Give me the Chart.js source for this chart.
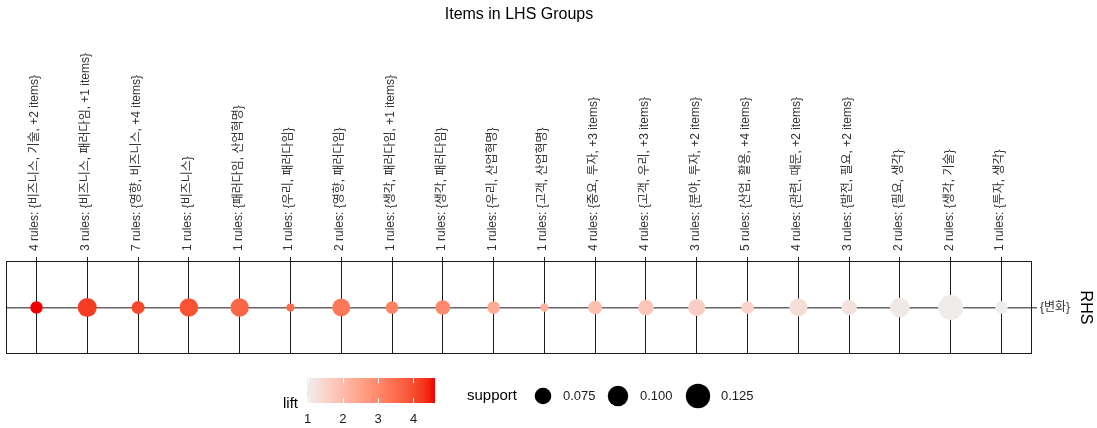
<!DOCTYPE html>
<html>
<head>
<meta charset="utf-8">
<script src="https://cdn.jsdelivr.net/npm/chart.js@4.4.1/dist/chart.umd.min.js"></script>
<style>
  html, body { margin: 0; padding: 0; background: #ffffff; }
  #wrap { width: 1097px; height: 428px; position: relative; }
</style>
</head>
<body>
<div id="wrap"><canvas id="c"></canvas></div>
<script>
// LHS item groups (columns), ordered by lift
const groupLabels = [
  '4 rules: {비즈니스, 기술, +2 items}',
  '3 rules: {비즈니스, 패러다임, +1 items}',
  '7 rules: {영향, 비즈니스, +4 items}',
  '1 rules: {비즈니스}',
  '1 rules: {패러다임, 산업혁명}',
  '1 rules: {우리, 패러다임}',
  '2 rules: {영향, 패러다임}',
  '1 rules: {생각, 패러다임, +1 items}',
  '1 rules: {생각, 패러다임}',
  '1 rules: {우리, 산업혁명}',
  '1 rules: {고객, 산업혁명}',
  '4 rules: {중요, 투자, +3 items}',
  '4 rules: {고객, 우리, +3 items}',
  '3 rules: {분야, 투자, +2 items}',
  '5 rules: {산업, 활용, +4 items}',
  '4 rules: {관련, 때문, +2 items}',
  '3 rules: {발전, 필요, +2 items}',
  '2 rules: {필요, 생각}',
  '2 rules: {생각, 기술}',
  '1 rules: {투자, 생각}'
];
const rhsLabels = ['{변화}'];

// aggregated measures per group
const lift = [4.61, 4.20, 4.05, 3.90, 3.60, 3.50, 3.30, 3.10, 3.00, 2.35,
              2.20, 1.95, 1.80, 1.60, 1.50, 1.30, 1.22, 1.10, 1.02, 0.98];
const support = [0.048, 0.090, 0.052, 0.088, 0.087, 0.020, 0.084, 0.049, 0.062, 0.049,
                 0.022, 0.056, 0.067, 0.078, 0.049, 0.084, 0.067, 0.094, 0.129, 0.048];

// legend breaks
const liftBreaks = [1, 2, 3, 4];
const supportBreaks = [0.075, 0.100, 0.125];

const FONT = "'Liberation Sans', Arial, 'Noto Sans CJK KR', sans-serif";
const liftLow = [0xEE, 0xEE, 0xEE];
const liftHigh = [0xEE, 0x00, 0x00];
const liftMin = Math.min(...lift);
const liftMax = Math.max(...lift);

// ---- colour gradient interpolated in CIE Lab ----
function toLin(c) { c /= 255; return c <= 0.04045 ? c / 12.92 : Math.pow((c + 0.055) / 1.055, 2.4); }
function fromLin(c) { const v = c <= 0.0031308 ? 12.92 * c : 1.055 * Math.pow(c, 1 / 2.4) - 0.055; return Math.max(0, Math.min(255, Math.round(v * 255))); }
const WX = 0.95047, WY = 1.0, WZ = 1.08883;
function fLab(t) { return t > 0.008856 ? Math.cbrt(t) : 7.787 * t + 16 / 116; }
function fInv(t) { const t3 = t * t * t; return t3 > 0.008856 ? t3 : (t - 16 / 116) / 7.787; }
function rgbToLab(rgb) {
  const r = toLin(rgb[0]), g = toLin(rgb[1]), b = toLin(rgb[2]);
  const X = (0.4124564 * r + 0.3575761 * g + 0.1804375 * b) / WX;
  const Y = (0.2126729 * r + 0.7151522 * g + 0.0721750 * b) / WY;
  const Z = (0.0193339 * r + 0.1191920 * g + 0.9503041 * b) / WZ;
  const fx = fLab(X), fy = fLab(Y), fz = fLab(Z);
  return [116 * fy - 16, 500 * (fx - fy), 200 * (fy - fz)];
}
function labToRgb(lab) {
  const fy = (lab[0] + 16) / 116, fx = fy + lab[1] / 500, fz = fy - lab[2] / 200;
  const X = fInv(fx) * WX, Y = fInv(fy) * WY, Z = fInv(fz) * WZ;
  const r = 3.2404542 * X - 1.5371385 * Y - 0.4985314 * Z;
  const g = -0.9692660 * X + 1.8760108 * Y + 0.0415560 * Z;
  const b = 0.0556434 * X - 0.2040259 * Y + 1.0572252 * Z;
  return [fromLin(r), fromLin(g), fromLin(b)];
}
const labLow = rgbToLab(liftLow), labHigh = rgbToLab(liftHigh);
function liftColor(v) {
  const t = Math.max(0, Math.min(1, (v - liftMin) / (liftMax - liftMin)));
  const lab = labLow.map((a, i) => a + (labHigh[i] - a) * t);
  const c = labToRgb(lab);
  return `rgb(${c[0]},${c[1]},${c[2]})`;
}

// support -> bubble radius (px)
function supportRadius(s) { return 8.3 + (s - 0.075) * 78; }

const points = groupLabels.map((_, i) => ({ x: i + 1, y: 1, r: supportRadius(support[i]) }));

// panel frame, title and the two legends
const decorations = {
  id: 'decorations',
  beforeDatasetsDraw(chart) {
    const { ctx, chartArea: a } = chart;
    ctx.save();
    ctx.strokeStyle = '#1a1a1a';
    ctx.lineWidth = 1;
    ctx.strokeRect(a.left + 0.5, a.top + 0.5, a.right - a.left - 1, a.bottom - a.top - 1);
    ctx.restore();
  },
  afterDraw(chart) {
    const { ctx, chartArea: a } = chart;
    ctx.save();
    // title
    ctx.fillStyle = '#000';
    ctx.font = `16px ${FONT}`;
    ctx.textAlign = 'center';
    ctx.textBaseline = 'middle';
    ctx.fillText('Items in LHS Groups', (a.left + a.right) / 2, 15);

    // lift colour bar
    const bx0 = 307, bx1 = 435, by0 = 378, by1 = 403;
    const grad = ctx.createLinearGradient(bx0, 0, bx1, 0);
    for (let k = 0; k <= 20; k++) {
      grad.addColorStop(k / 20, liftColor(liftMin + (liftMax - liftMin) * k / 20));
    }
    ctx.fillStyle = grad;
    ctx.fillRect(bx0, by0, bx1 - bx0, by1 - by0);
    const liftPx = v => bx0 + (v - liftMin) / (liftMax - liftMin) * (bx1 - bx0);
    ctx.strokeStyle = '#ffffff';
    ctx.lineWidth = 1;
    liftBreaks.forEach(v => {
      const x = Math.round(liftPx(v)) + 0.5;
      ctx.beginPath();
      ctx.moveTo(x, by0); ctx.lineTo(x, by0 + 5);
      ctx.moveTo(x, by1 - 5); ctx.lineTo(x, by1);
      ctx.stroke();
    });
    ctx.fillStyle = '#1a1a1a';
    ctx.font = `13px ${FONT}`;
    ctx.textAlign = 'center';
    ctx.textBaseline = 'middle';
    liftBreaks.forEach(v => ctx.fillText(String(v), liftPx(v), 419));
    ctx.font = `15px ${FONT}`;
    ctx.textAlign = 'left';
    ctx.fillStyle = '#000';
    ctx.fillText('lift', 283, 404);

    // support size legend
    ctx.fillText('support', 467, 396);
    const centers = [543, 618, 698];
    const labelX = [563, 640, 721];
    supportBreaks.forEach((s, i) => {
      ctx.fillStyle = '#000';
      ctx.beginPath();
      ctx.arc(centers[i], 396, supportRadius(s), 0, Math.PI * 2);
      ctx.fill();
      ctx.fillStyle = '#1a1a1a';
      ctx.font = `13px ${FONT}`;
      ctx.fillText(s.toFixed(3), labelX[i], 396);
    });
    ctx.restore();
  }
};

new Chart(document.getElementById('c'), {
  type: 'bubble',
  data: {
    datasets: [{
      data: points,
      backgroundColor: ctx => liftColor(lift[ctx.dataIndex]),
      borderWidth: 0,
      hoverBorderWidth: 0
    }]
  },
  options: {
    responsive: true,
    maintainAspectRatio: false,
    animation: false,
    events: [],
    devicePixelRatio: 1,
    layout: { autoPadding: false, padding: { top: 22, left: 6, right: 0, bottom: 74 } },
    plugins: { legend: { display: false }, tooltip: { enabled: false }, title: { display: false } },
    scales: {
      x: {
        type: 'linear',
        position: 'top',
        min: 0.4,
        max: groupLabels.length + 0.6,
        afterBuildTicks: s => { s.ticks = groupLabels.map((_, i) => ({ value: i + 1 })); },
        afterFit: s => { s.height = 239; s.paddingLeft = 0; s.paddingRight = 0; },
        grid: { color: '#1a1a1a', lineWidth: 1, tickLength: 4, tickColor: '#1a1a1a' },
        border: { display: false },
        ticks: {
          autoSkip: false,
          maxRotation: 90,
          minRotation: 90,
          padding: 6,
          labelOffset: 13,
          color: '#333333',
          font: { size: 12, family: FONT },
          callback: v => groupLabels[Math.round(v) - 1]
        }
      },
      y: {
        type: 'linear',
        position: 'right',
        min: 0,
        max: 2,
        afterBuildTicks: s => { s.ticks = rhsLabels.map((_, i) => ({ value: i + 1 })); },
        afterFit: s => { s.width = 65; s.paddingTop = 0; s.paddingBottom = 0; },
        grid: { color: '#666666', lineWidth: 1.5, tickLength: 5, tickColor: '#666666' },
        border: { display: false },
        ticks: {
          padding: 3,
          color: '#333333',
          font: { size: 12, family: FONT },
          callback: v => rhsLabels[Math.round(v) - 1]
        },
        title: {
          display: true,
          text: 'RHS',
          color: '#000',
          font: { size: 16, family: FONT },
          padding: { top: 2, bottom: 0 }
        }
      }
    }
  },
  plugins: [decorations]
});
</script>
</body>
</html>
